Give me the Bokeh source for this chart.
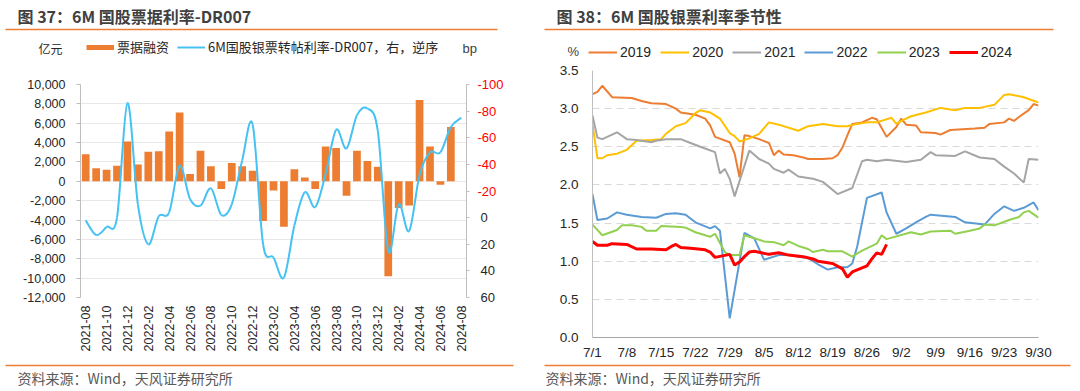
import math
import numpy as np
from bokeh.plotting import figure
from bokeh.models import (Range1d, LinearAxis, FixedTicker, NumeralTickFormatter, Label,
                          Legend, LegendItem, BoxAnnotation)
from bokeh.layouts import row, column
from bokeh.embed import file_html
from bokeh.resources import INLINE

# ---------------- data: left chart ----------------
months = ["2021-08", "2021-09", "2021-10", "2021-11", "2021-12",
          "2022-01", "2022-02", "2022-03", "2022-04", "2022-05", "2022-06",
          "2022-07", "2022-08", "2022-09", "2022-10", "2022-11", "2022-12",
          "2023-01", "2023-02", "2023-03", "2023-04", "2023-05", "2023-06",
          "2023-07", "2023-08", "2023-09", "2023-10", "2023-11", "2023-12",
          "2024-01", "2024-02", "2024-03", "2024-04", "2024-05", "2024-06",
          "2024-07", "2024-08"]
# 票据融资 (亿元), 2021-08 .. 2024-07
bill_financing = [2800, 1350, 1200, 1600, 4100,
                  1750, 3050, 3100, 5150, 7100, 750,
                  3150, 1550, -800, 1900, 1550, 1100,
                  -4100, -950, -4700, 1250, 400, -800,
                  3600, 3450, -1500, 3150, 2100, 1500,
                  -9800, -2750, -2500, 8400, 3600, -350,
                  5600]
# 6M国股银票转帖利率-DR007 (bp), 2021-08 .. 2024-08
rate_spread = [2, 13, 7, 0, -86,
               -10, 20, -1, -4, -39, -14,
               -9, -22, -2, -10, -43, -70,
               20, 30, 45, 6, -19, -8,
               -33, -66, -52, -77, -82, -65,
               25, -10, 10, -32, -49, -49,
               -68, -75]
left_ticks = list(range(-12000, 10001, 2000))
right_ticks = [-100, -80, -60, -40, -20, 0, 20, 40, 60]

# ---------------- data: right chart (days since 7/1) ----------------
day_ticks = [0, 7, 14, 21, 28, 35, 42, 49, 56, 63, 70, 77, 84, 91]
day_labels = ["7/1", "7/8", "7/15", "7/22", "7/29", "8/5", "8/12", "8/19",
              "8/26", "9/2", "9/9", "9/16", "9/23", "9/30"]
pct_ticks = [0, 0.5, 1.0, 1.5, 2.0, 2.5, 3.0, 3.5]

d2019 = [0, 1, 2, 4, 8, 10, 12, 15, 17, 18, 21, 23, 24, 25, 28, 29, 30, 31, 32, 34,
         36, 37, 38, 39, 41, 43, 44, 47, 49, 50, 51, 52, 53, 55, 57, 58, 60, 62, 63, 64,
         66, 67, 70, 71, 73, 78, 80, 81, 84, 85, 86, 87, 89, 90, 91]
v2019 = [3.19, 3.22, 3.30, 3.15, 3.14, 3.10, 3.07, 3.06, 3.00, 2.95, 2.92, 2.87, 2.78, 2.63, 2.56, 2.41, 2.10, 2.65, 2.64, 2.60,
         2.55, 2.39, 2.45, 2.40, 2.39, 2.36, 2.34, 2.34, 2.35, 2.39, 2.49, 2.65, 2.80, 2.82, 2.88, 2.86, 2.63, 2.76, 2.87, 2.79,
         2.78, 2.69, 2.68, 2.66, 2.72, 2.74, 2.75, 2.80, 2.82, 2.87, 2.84, 2.89, 2.98, 3.06, 3.04]

d2020 = [0, 1, 2, 3, 5, 7, 9, 12, 14, 15, 17, 19, 21, 22, 24, 26, 28, 29, 30, 32,
         34, 36, 38, 42, 44, 47, 50, 52, 54, 56, 58, 61, 62, 63, 65, 68, 71, 72, 74, 76,
         79, 82, 84, 85, 88, 91]
v2020 = [2.80, 2.35, 2.35, 2.39, 2.41, 2.46, 2.58, 2.59, 2.60, 2.67, 2.77, 2.81, 2.94, 2.98, 2.95, 2.87, 2.68, 2.64, 2.57, 2.61,
         2.67, 2.82, 2.79, 2.71, 2.77, 2.80, 2.77, 2.77, 2.80, 2.82, 2.82, 2.88, 2.80, 2.84, 2.90, 2.95, 3.01, 3.00, 2.98, 3.01,
         3.01, 3.05, 3.18, 3.19, 3.15, 3.08]

d2021 = [0, 1, 2, 5, 7, 9, 12, 13, 15, 18, 20, 22, 25, 26, 27, 28, 29, 30, 32, 34,
         36, 37, 39, 40, 42, 45, 47, 50, 53, 55, 56, 58, 60, 64, 67, 69, 70, 74, 76, 79,
         82, 84, 86, 88, 89, 91]
v2021 = [2.91, 2.62, 2.60, 2.69, 2.60, 2.59, 2.56, 2.58, 2.60, 2.60, 2.55, 2.50, 2.43, 2.15, 2.21, 2.08, 1.85, 2.05, 2.45, 2.34,
         2.28, 2.21, 2.16, 2.20, 2.11, 2.08, 2.04, 1.88, 1.96, 2.31, 2.33, 2.31, 2.33, 2.30, 2.33, 2.43, 2.39, 2.38, 2.44, 2.36,
         2.34, 2.24, 2.15, 2.03, 2.34, 2.33]

d2022 = [0, 1, 3, 5, 7, 10, 13, 15, 17, 19, 21, 24, 25, 26, 28, 31, 33, 35, 38, 40,
         44, 46, 48, 50, 52, 53, 54, 56, 59, 60, 62, 64, 66, 68, 69, 74, 76, 80, 82, 84,
         86, 88, 90, 91]
v2022 = [1.88, 1.54, 1.56, 1.64, 1.61, 1.58, 1.57, 1.62, 1.63, 1.61, 1.51, 1.43, 1.46, 1.40, 0.25, 1.37, 1.30, 1.02, 1.08, 1.08,
         1.04, 0.96, 0.89, 0.92, 0.92, 0.97, 1.19, 1.83, 1.90, 1.64, 1.36, 1.43, 1.51, 1.58, 1.61, 1.58, 1.51, 1.48, 1.62, 1.72,
         1.66, 1.70, 1.77, 1.67]

d2023 = [0, 2, 5, 6, 8, 10, 11, 13, 14, 18, 19, 21, 24, 25, 27, 28, 30, 31, 33, 35,
         37, 39, 40, 42, 44, 45, 47, 48, 51, 53, 55, 58, 59, 60, 65, 67, 69, 73, 74, 77,
         79, 80, 82, 85, 87, 88, 89, 91]
v2023 = [1.48, 1.34, 1.41, 1.47, 1.47, 1.45, 1.40, 1.40, 1.46, 1.45, 1.44, 1.38, 1.32, 1.36, 1.12, 1.08, 1.08, 1.34, 1.30, 1.26,
         1.25, 1.21, 1.26, 1.20, 1.16, 1.12, 1.15, 1.13, 1.13, 1.06, 1.14, 1.23, 1.34, 1.29, 1.38, 1.35, 1.39, 1.40, 1.36, 1.40,
         1.43, 1.48, 1.47, 1.54, 1.58, 1.64, 1.66, 1.57]

d2024 = [0, 1, 3, 4, 7, 9, 12, 15, 16, 17, 18, 20, 23, 24, 25, 28, 29, 30, 31, 32,
         33, 36, 38, 40, 43, 45, 46, 49, 51, 52, 53, 56, 57, 58, 59, 60]
v2024 = [1.26, 1.21, 1.21, 1.23, 1.22, 1.16, 1.16, 1.15, 1.19, 1.22, 1.18, 1.17, 1.15, 1.12, 1.05, 1.09, 0.95, 0.99, 1.06, 1.12,
         1.13, 1.09, 1.11, 1.08, 1.06, 1.03, 1.00, 0.97, 0.90, 0.79, 0.86, 0.94, 1.03, 1.11, 1.09, 1.22]

season_series = [("2019", d2019, v2019, "#ED7D31", 2),
                 ("2020", d2020, v2020, "#FFC000", 2),
                 ("2021", d2021, v2021, "#A5A5A5", 2),
                 ("2022", d2022, v2022, "#5B9BD5", 2),
                 ("2023", d2023, v2023, "#92D050", 2),
                 ("2024", d2024, v2024, "#FF0000", 3)]

CJK = "Noto Sans CJK SC"
LAT = "Liberation Sans"
ORANGE = "#ED7D31"
BLUE = "#45C2F2"
TXT = "#262626"
NAN = [float("nan")]


def no_align(p):
    if "frame_align" in p.properties():
        p.frame_align = False


def deco(w, h):
    d = figure(width=w, height=h, x_range=Range1d(0, w), y_range=Range1d(h, 0),
               x_axis_type=None, y_axis_type=None, toolbar_location=None,
               output_backend="svg", min_border=0, title=None)
    d.outline_line_color = None
    no_align(d)
    return d


def add_text(p, x, y, text, size, color, font=CJK, bold=False):
    p.add_layout(Label(x=x, y=y, text=text, text_font=font, text_font_size=size,
                       text_color=color, text_baseline="middle", text_align="left",
                       text_font_style="bold" if bold else "normal"))


def add_rule(p, left, right, y, thick=1.5):
    p.add_layout(BoxAnnotation(left=left, right=right, top=y - thick / 2, bottom=y + thick / 2,
                               fill_color=ORANGE, fill_alpha=1.0, line_color=None))


# ================= left column =================
top_l = deco(540, 76)
add_text(top_l, 17, 15, "图 37：6M 国股票据利率-DR007", "16px", "#404040", bold=True)
add_rule(top_l, 5, 497, 29)
add_text(top_l, 38, 48, "亿元", "12px", TXT)
add_text(top_l, 462, 48, "bp", "13px", "#404040", font=LAT)
# legend swatches (styled like the chart's bar and curve)
sw_bar = top_l.line(x=NAN, y=NAN, line_color=ORANGE, line_width=5)
sw_line = top_l.line(x=NAN, y=NAN, line_color=BLUE, line_width=2)
top_l.add_layout(Legend(items=[LegendItem(label="票据融资", renderers=[sw_bar]),
                               LegendItem(label="6M国股银票转帖利率-DR007，右，逆序", renderers=[sw_line])],
                        orientation="horizontal", location=(86, 20), glyph_width=28, glyph_height=16,
                        label_height=16, label_standoff=3, spacing=8, padding=0, margin=0,
                        border_line_color=None, background_fill_alpha=0,
                        label_text_font=CJK, label_text_font_size="13px", label_text_color=TXT))

n = len(rate_spread)
p1 = figure(width=540, height=282, x_range=Range1d(-0.5, n - 0.5), y_range=Range1d(-12000, 10000),
            output_backend="svg", toolbar_location=None, title=None,
            min_border_left=80, min_border_right=74, min_border_top=8, min_border_bottom=61)
no_align(p1)
p1.outline_line_color = None
p1.xgrid.visible = False
p1.ygrid.grid_line_color = "#E8E8E8"
p1.ygrid.grid_line_width = 1

xa = p1.xaxis[0]
xa.ticker = FixedTicker(ticks=list(range(0, n, 2)))
xa.major_label_overrides = {i: months[i] for i in range(0, n, 2)}
xa.major_label_orientation = math.pi / 2
xa.axis_line_color = None
xa.major_tick_line_color = None
xa.minor_tick_line_color = None
xa.major_tick_out = 0
xa.minor_tick_out = 0
xa.major_label_standoff = 8
xa.major_label_text_font = LAT
xa.major_label_text_font_size = "12.5px"
xa.major_label_text_color = TXT

ya = p1.yaxis[0]
ya.ticker = FixedTicker(ticks=left_ticks)
ya.formatter = NumeralTickFormatter(format="0,0")
ya.axis_line_color = "#BFBFBF"
ya.major_tick_line_color = "#BFBFBF"
ya.major_tick_out = 4
ya.major_tick_in = 0
ya.minor_tick_out = 0
ya.minor_tick_line_color = None
ya.major_label_standoff = 11
ya.major_label_text_font = LAT
ya.major_label_text_font_size = "12.5px"
ya.major_label_text_color = TXT

p1.extra_y_ranges = {"bp": Range1d(60, -100)}
# inner right axis: line, ticks and the red (negative) labels
ra = LinearAxis(y_range_name="bp", ticker=FixedTicker(ticks=right_ticks),
                formatter=NumeralTickFormatter(format="0"))
ra.major_label_overrides = {t: "" for t in right_ticks if t >= 0}
ra.axis_line_color = "#BFBFBF"
ra.major_tick_line_color = "#BFBFBF"
ra.major_tick_out = 3
ra.major_tick_in = 0
ra.minor_tick_out = 0
ra.minor_tick_line_color = None
ra.major_label_standoff = 8
ra.major_label_text_font = LAT
ra.major_label_text_font_size = "13px"
ra.major_label_text_color = "#FF0000"
p1.add_layout(ra, "right")
# outer right axis: only the black (non-negative) labels, pulled back under the inner one
rb = LinearAxis(y_range_name="bp", ticker=FixedTicker(ticks=[t for t in right_ticks if t >= 0]),
                formatter=NumeralTickFormatter(format="0"))
rb.axis_line_color = None
rb.major_tick_line_color = None
rb.minor_tick_line_color = None
rb.major_tick_out = 0
rb.major_tick_in = 0
rb.minor_tick_out = 0
rb.major_label_standoff = -26
rb.major_label_text_font = LAT
rb.major_label_text_font_size = "13px"
rb.major_label_text_color = TXT
p1.add_layout(rb, "right")

p1.vbar(x=list(range(len(bill_financing))), top=bill_financing, width=0.74,
        fill_color=ORANGE, line_color=None)

# smoothed (Catmull-Rom) curve through the monthly points
xi = np.arange(n, dtype=float)
yi = np.array(rate_spread, dtype=float)
xp = np.concatenate([[xi[0]], xi, [xi[-1]]])
yp = np.concatenate([[yi[0]], yi, [yi[-1]]])
bx0, by0 = xp[1:-2], yp[1:-2]
bx1, by1 = xp[2:-1], yp[2:-1]
cx0 = bx0 + (bx1 - xp[:-3]) / 6.0
cy0 = by0 + (by1 - yp[:-3]) / 6.0
cx1 = bx1 - (xp[3:] - bx0) / 6.0
cy1 = by1 - (yp[3:] - by0) / 6.0
p1.bezier(x0=bx0, y0=by0, x1=bx1, y1=by1, cx0=cx0, cy0=cy0, cx1=cx1, cy1=cy1,
          y_range_name="bp", line_color=BLUE, line_width=2)

foot_l = deco(540, 32)
add_rule(foot_l, 5, 513, 7)
add_text(foot_l, 17, 19, "资料来源：Wind，天风证券研究所", "14px", "#595959")

# ================= right column =================
top_r = deco(539, 62)
add_text(top_r, 16, 15, "图 38：6M 国股银票利率季节性", "16px", "#404040", bold=True)
add_rule(top_r, 4, 513, 29)
add_text(top_r, 27, 51, "%", "13px", "#404040", font=LAT)
sw_items = []
for name, dd, vv, col, lw in season_series:
    sw = top_r.line(x=NAN, y=NAN, line_color=col, line_width=lw)
    sw_items.append(LegendItem(label=name, renderers=[sw]))
top_r.add_layout(Legend(items=sw_items, orientation="horizontal", location=(48, 2), glyph_width=29,
                        glyph_height=16, label_height=16, label_standoff=3, spacing=9, padding=0,
                        margin=0, border_line_color=None, background_fill_alpha=0,
                        label_text_font=LAT, label_text_font_size="14px", label_text_color=TXT))

p2 = figure(width=539, height=300, x_range=Range1d(0, 91), y_range=Range1d(0, 3.5),
            output_backend="svg", toolbar_location=None, title=None,
            min_border_left=52, min_border_right=41, min_border_top=8, min_border_bottom=25)
no_align(p2)
p2.outline_line_color = None
p2.xgrid.visible = False
p2.ygrid.grid_line_color = "#D9D9D9"
p2.ygrid.grid_line_dash = "7 5"
p2.ygrid.grid_line_width = 1

xb = p2.xaxis[0]
xb.ticker = FixedTicker(ticks=day_ticks)
xb.major_label_overrides = dict(zip(day_ticks, day_labels))
xb.axis_line_color = "#A6A6A6"
xb.major_tick_line_color = None
xb.minor_tick_line_color = None
xb.major_tick_out = 0
xb.minor_tick_out = 0
xb.major_label_standoff = 7
xb.major_label_text_font = LAT
xb.major_label_text_font_size = "13.5px"
xb.major_label_text_color = TXT

yb = p2.yaxis[0]
yb.ticker = FixedTicker(ticks=pct_ticks)
yb.formatter = NumeralTickFormatter(format="0.0")
yb.axis_line_color = "#BFBFBF"
yb.major_tick_line_color = None
yb.minor_tick_line_color = None
yb.major_tick_out = 0
yb.minor_tick_out = 0
yb.major_label_standoff = 14
yb.major_label_text_font = LAT
yb.major_label_text_font_size = "13.5px"
yb.major_label_text_color = TXT

for name, dd, vv, col, lw in season_series:
    p2.line(x=dd, y=vv, line_color=col, line_width=lw)

foot_r = deco(539, 28)
add_rule(foot_r, 4, 530, 3)
add_text(foot_r, 5, 15, "资料来源：Wind，天风证券研究所", "14px", "#595959")

layout = row(column(top_l, p1, foot_l), column(top_r, p2, foot_r))
open("out.html", "w").write(file_html(layout, INLINE))
